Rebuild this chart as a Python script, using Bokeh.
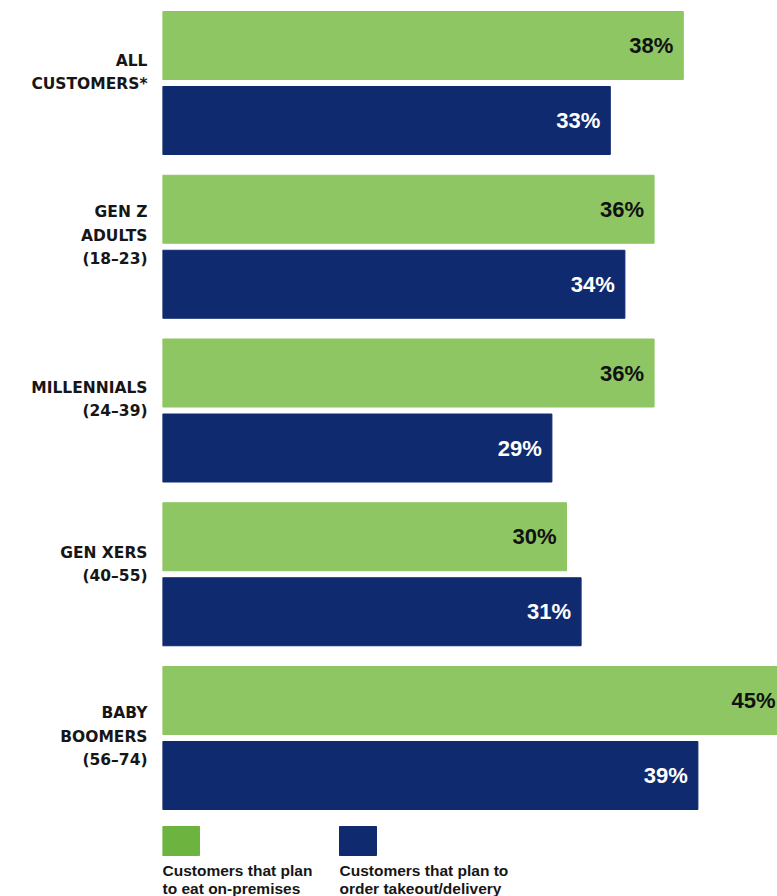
from bokeh.plotting import figure
from bokeh.models import Range1d, ColumnDataSource, LinearAxis, FixedTicker
from bokeh.core.properties import value
from bokeh.embed import file_html
from bokeh.resources import INLINE

# ---- data ----
categories = ["ALL\nCUSTOMERS*", "GEN Z\nADULTS\n(18–23)", "MILLENNIALS\n(24–39)",
              "GEN XERS\n(40–55)", "BABY\nBOOMERS\n(56–74)"]
on_premises = [38, 36, 36, 30, 45]
takeout_delivery = [33, 34, 29, 31, 39]
series_names = ["Customers that plan\nto eat on-premises",
                "Customers that plan to\norder takeout/delivery"]

# ---- style / layout ----
GREEN = "#8DC663"
NAVY = "#102A6F"
LEGEND_GREEN = "#6DB33F"
TEXT = "#161616"

W, H = 777, 896
LEFT_BORDER = 162
PX_PER_UNIT = 14.6          # pixels per percentage point
ZERO_PX = 128               # canvas x of value 0 (hidden behind left border)
PITCH = 163.75              # px per group
TOP = 11                    # px from frame top to first bar
BAR_H = 68
NAVY_OFF = 75
PAD = 10 / PX_PER_UNIT
label_nudge = [-10, -11, -11, -10, -1]

def xdata(canvas_px):
    return (canvas_px - ZERO_PX) / PX_PER_UNIT

p = figure(width=W, height=H,
           x_range=Range1d(xdata(LEFT_BORDER), xdata(W)),
           y_range=Range1d(H, 0),
           output_backend="svg", toolbar_location=None,
           x_axis_location=None, y_axis_location=None,
           min_border_left=LEFT_BORDER, min_border_right=0,
           min_border_top=0, min_border_bottom=0)
p.grid.visible = False
p.outline_line_color = None
p.background_fill_color = "white"
p.border_fill_color = "white"

n = len(categories)
g_y = [TOP + i * PITCH + BAR_H / 2 for i in range(n)]
n_y = [TOP + i * PITCH + NAVY_OFF + BAR_H / 2 for i in range(n)]

src_g = ColumnDataSource(dict(y=g_y, v=on_premises,
                              lx=[v - PAD for v in on_premises],
                              t=[f"{v}%" for v in on_premises]))
src_n = ColumnDataSource(dict(y=n_y, v=takeout_delivery,
                              lx=[v - PAD for v in takeout_delivery],
                              t=[f"{v}%" for v in takeout_delivery]))

p.hbar(y="y", left=0, right="v", height=BAR_H, color=GREEN, source=src_g)
p.hbar(y="y", left=0, right="v", height=BAR_H, color=NAVY, source=src_n)

common = dict(text_align="right", text_baseline="middle",
              text_font=value("Liberation Sans"), text_font_style="bold",
              text_font_size="22px")
p.text(x="lx", y="y", text="t", text_color="#111111", source=src_g, **common)
p.text(x="lx", y="y", text="t", text_color="white", source=src_n, **common)

# category labels as a left axis with multi-line tick labels
ticks = [int(round(TOP + i * PITCH + (NAVY_OFF + BAR_H) / 2 + label_nudge[i]))
         for i in range(n)]
yaxis = LinearAxis(ticker=FixedTicker(ticks=ticks),
                   major_label_overrides={t: c for t, c in zip(ticks, categories)})
yaxis.axis_line_color = None
yaxis.major_tick_line_color = None
yaxis.minor_tick_line_color = None
yaxis.major_tick_out = 0
yaxis.major_tick_in = 0
yaxis.major_label_standoff = 15
yaxis.major_label_text_font = "DejaVu Sans"
yaxis.major_label_text_font_style = "bold"
yaxis.major_label_text_font_size = "15.5px"
yaxis.major_label_text_line_height = 1.3
yaxis.major_label_text_color = TEXT
p.add_layout(yaxis, "left")

# legend
leg_x = [xdata(162), xdata(339)]
leg_w = 37 / PX_PER_UNIT
leg_y_top = 826
p.quad(left=leg_x, right=[x + leg_w for x in leg_x],
       top=[leg_y_top, leg_y_top], bottom=[leg_y_top + 29, leg_y_top + 29],
       color=[LEGEND_GREEN, NAVY])
p.text(x=leg_x, y=[861, 861], text=series_names,
       text_align="left", text_baseline="top",
       text_font=value("Liberation Sans"), text_font_style="bold",
       text_font_size="15.5px", text_line_height=1.1, text_color=TEXT)

open("out.html", "w").write(file_html(p, INLINE))
